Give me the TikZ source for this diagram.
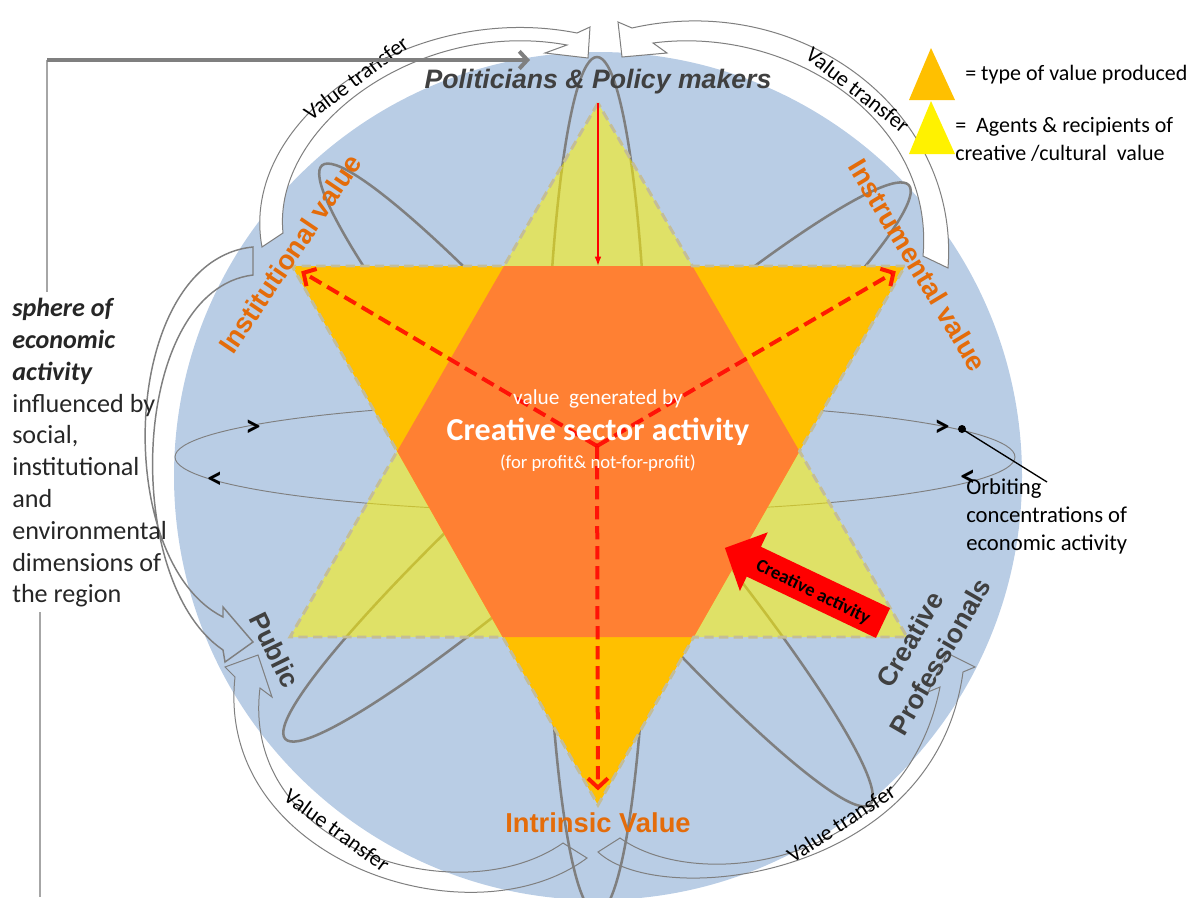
\documentclass[tikz,border=0pt]{standalone}
\usepackage{fontspec}
\setmainfont{Carlito}
\newfontfamily\arialfont{Liberation Sans}
\usetikzlibrary{arrows.meta}

\definecolor{sky}{HTML}{B9CDE5}
\definecolor{orbitgray}{HTML}{7F7F7F}
\definecolor{linkgray}{HTML}{A6A6A6}
\definecolor{startan}{HTML}{C4BD97}
\definecolor{valyellow}{HTML}{FFC000}
\definecolor{hexorange}{HTML}{FF8033}
\definecolor{valorange}{HTML}{E46C0A}
\definecolor{agentgray}{HTML}{404040}
\definecolor{textdark}{HTML}{262626}

\tikzset{
  orbit/.style={draw=orbitgray, line width=1.9pt},
  starline/.style={draw=startan, line width=2.2pt, dash pattern=on 7pt off 4pt},
  vtarrow/.style={draw=orbitgray, line width=0.75pt},
  vtlabel/.style={text=black, font=\fontsize{16.5}{18}\selectfont},
  valuelabel/.style={text=valorange, font=\arialfont\bfseries\fontsize{20.5}{24}\selectfont},
  agentlabel/.style={text=agentgray, align=center, font=\arialfont\bfseries\fontsize{20}{26}\selectfont},
  flow/.style={draw=red, draw opacity=.85, line width=3pt, dash pattern=on 10pt off 5pt,
    -{Straight Barb[length=7pt,width=15pt,line width=3pt]}},
  spin/.style={text=black, font=\bfseries\fontsize{23}{24}\selectfont}
}

\begin{document}
\begin{tikzpicture}[x=0.75pt,y=-0.75pt]
\useasboundingbox (0,0) rectangle (1199,897);

\fill[sky] (598,476) circle[radius=424];

\draw[orbit] (597,485) ellipse[x radius=52, y radius=428];
\draw[orbit, rotate around={-49.4:(596,485)}] (596,485) ellipse[x radius=421, y radius=52];
\draw[orbit, rotate around={41.6:(597,462)}] (597,462) ellipse[x radius=417, y radius=52];
\draw[orbitgray, line width=0.7pt] (595,457) ellipse[x radius=420, y radius=55];

\coordinate (up) at (598,103);
\coordinate (upl) at (290,637);
\coordinate (upr) at (907,637);
\coordinate (dnl) at (292,266);
\coordinate (dnr) at (905,266);
\coordinate (dn) at (598,805);
\coordinate (h1) at (intersection of up--upl and dnl--dnr);
\coordinate (h2) at (intersection of up--upl and dnl--dn);
\coordinate (h3) at (intersection of upl--upr and dnl--dn);
\coordinate (h4) at (intersection of upl--upr and dnr--dn);
\coordinate (h5) at (intersection of up--upr and dnr--dn);
\coordinate (h6) at (intersection of up--upr and dnl--dnr);

\fill[yellow, fill opacity=.55] (up) -- (upl) -- (upr) -- cycle;
\fill[valyellow] (dnl) -- (dnr) -- (dn) -- cycle;
\fill[hexorange] (h1) -- (h2) -- (h3) -- (h4) -- (h5) -- (h6) -- cycle;
\draw[starline] (up) -- (h1) -- (dnl) -- (h2) -- (upl) -- (h3) -- (dn) -- (h4)
  -- (upr) -- (h5) -- (dnr) -- (h6) -- cycle;

\coordinate (hub) at (597,446);
\coordinate (hextop) at (598,266);
\draw[flow, shorten >=8pt] (hub) -- (dnl);
\draw[flow, shorten >=8pt] (hub) -- (dnr);
\draw[flow, shorten >=11pt] (hub) -- (dn);
\draw[red, line width=1.1pt, -{Latex[length=7pt,width=5pt]}] (up) -- (hextop);

% value transfer arrows
\draw[vtarrow, fill=white] (262,247) .. controls (238,120) and (410,0) .. (577,33)
  -- (590,27) -- (588,58) -- (545,53) -- (567,45)
  .. controls (420,18) and (272,125) .. (283,233) -- cycle;
\draw[vtarrow, fill=white] (948,268) .. controls (960,110) and (800,-10) .. (632,28)
  -- (618,22) -- (622,57) -- (667,53) -- (653,43)
  .. controls (790,25) and (935,120) .. (923,256) -- cycle;
\draw[vtarrow] (620,838) .. controls (700,895) and (905,865) .. (940,687)
  -- (928,692) -- (947,653) -- (975,667) -- (963,672)
  .. controls (935,880) and (660,910) .. (598,852) -- cycle;
\draw[vtarrow] (563,843) .. controls (460,915) and (240,850) .. (260,688)
  -- (272,697) -- (258,655) -- (225,667) -- (235,677)
  .. controls (215,860) and (470,945) .. (587,858) -- cycle;
\draw[vtarrow, line width=1.1pt] (253,247) .. controls (120,260) and (110,560) .. (223,617)
  -- (223,607) -- (253,642) -- (225,662) -- (223,650)
  .. controls (120,580) and (130,290) .. (253,275) -- cycle;

\node[vtlabel, rotate=37] (vt1) at (356,78) {Value transfer};
\node[vtlabel, rotate=-38] (vt2) at (858,90) {Value transfer};
\node[vtlabel, rotate=-36] (vt3) at (337,830) {Value transfer};
\node[vtlabel, rotate=33] (vt4) at (841,823) {Value transfer};

\begin{scope}[shift={(883,623)}, rotate=154.6]
\fill[red] (0,-16.5) -- (143,-16.5) -- (143,-32.5) -- (175,0) -- (143,32.5)
  -- (143,16.5) -- (0,16.5) -- cycle;
\end{scope}
\node[rotate=-26, font=\bfseries\fontsize{14}{16}\selectfont] (act) at (813,592) {Creative activity};

\node[text=white, font=\fontsize{16}{19}\selectfont] (gen) at (598,399) {value\ \ generated by};
\node[text=white, font=\bfseries\fontsize{24}{28}\selectfont] (sector) at (598,432) {Creative sector activity};
\node[text=white, font=\fontsize{14}{17}\selectfont] (profit) at (598,463) {(for profit\& not-for-profit)};

\node[agentlabel, font=\arialfont\bfseries\itshape\fontsize{20}{24}\selectfont] (pol) at (598,82) {Politicians \& Policy makers};
\node[agentlabel, rotate=-64] (pub) at (275,650) {Public};
\node[agentlabel, rotate=60] (prof) at (925,648) {Creative\\Professionals};
\node[valuelabel, rotate=56] (inst) at (290,254) {Institutional value};
\node[valuelabel, rotate=-59] (instr) at (918,265) {Instrumental value};
\node[valuelabel] (intr) at (598,823) {Intrinsic Value};

\node[spin] (s1) at (253,428) {>};
\node[spin] (s2) at (215,480) {<};
\node[spin] (s3) at (942,428) {>};
\node[spin] (s4) at (968,478) {<};

\node[circle, fill=black, inner sep=0, minimum size=6pt] (dot) at (962,429) {};
\node[anchor=north west, inner sep=0, align=left, text=black, font=\fontsize{17}{21}\selectfont] (orb) at (966,478)
  {Orbiting\\concentrations of\\economic activity};
\coordinate (orbtip) at (1047,482);
\draw[black, line width=1pt] (dot.center) -- (orbtip);

\node[anchor=north west, inner sep=0, align=left, text=textdark, font=\fontsize{19.6}{23.85}\selectfont] (sphere) at (12,298)
  {\textbf{\textit{sphere of}}\\\textbf{\textit{economic}}\\\textbf{\textit{activity}}\\influenced by\\social,\\institutional\\and\\environmental\\dimensions of\\the region};
\coordinate (stem) at (47,292);
\coordinate (corner) at (47,60);
\coordinate (toptip) at (530,60);
\coordinate (foot) at (40,612);
\coordinate (floor) at (40,897);
\draw[linkgray, line width=1pt] (stem) -- (corner);
\draw[orbitgray, line width=3pt, -{Straight Barb[length=6pt,width=13pt,line width=3pt]}] (corner) -- (toptip);
\draw[linkgray, line width=1pt] (foot) -- (floor);

\fill[valyellow] (931,48) -- (955,100) -- (909,100) -- cycle;
\fill[yellow] (931,101) -- (955,154) -- (909,154) -- cycle;
\node[anchor=base west, inner sep=0, font=\fontsize{16.5}{21}\selectfont] (key1) at (965,80) {= type of value produced};
\node[anchor=north west, inner sep=0, align=left, font=\fontsize{16.5}{21}\selectfont] (key2) at (955,117)
  {=\ \ Agents \& recipients of\\creative /cultural\ \ value};
\end{tikzpicture}
\end{document}
